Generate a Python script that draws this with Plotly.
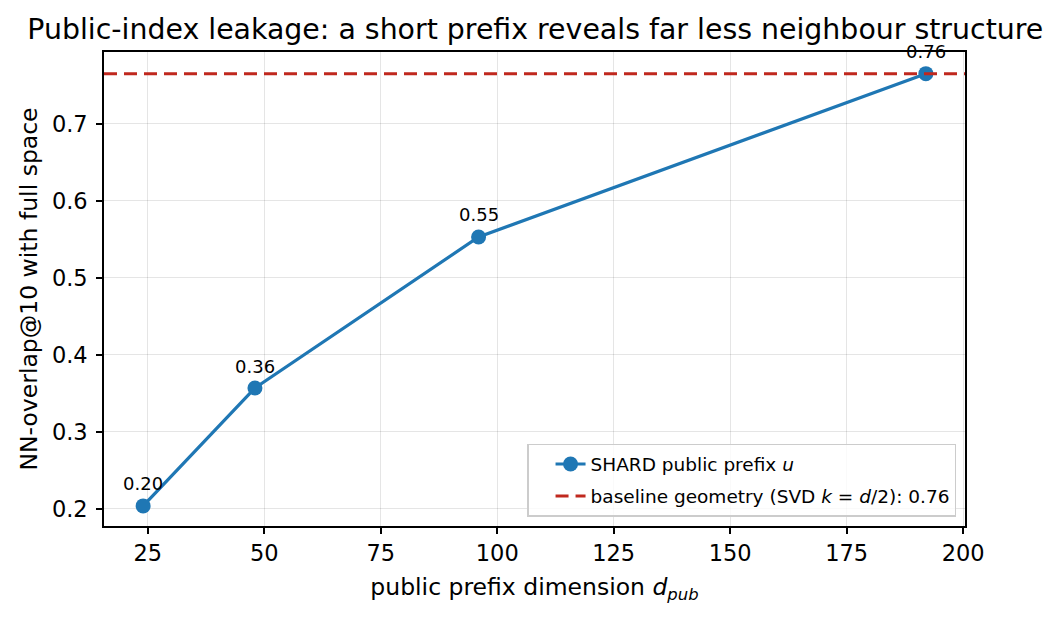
import plotly.graph_objects as go

d_pub = [24, 48, 96, 192]
overlap = [0.204, 0.357, 0.553, 0.765]
labels = ["0.20", "0.36", "0.55", "0.76"]
baseline = 0.765
x_ticks = [25, 50, 75, 100, 125, 150, 175, 200]
y_ticks = [0.2, 0.3, 0.4, 0.5, 0.6, 0.7]

blue = "#1f77b4"
red = "#c0281e"
font = "DejaVu Sans"

fig = go.Figure()
fig.add_trace(go.Scatter(
    x=d_pub, y=overlap, mode="lines+markers",
    line=dict(color=blue, width=3.2),
    marker=dict(size=15, color=blue),
    name="SHARD public prefix <i>u</i>", legendgroup="a",
))
fig.add_trace(go.Scatter(
    x=[15.6, 200.4], y=[baseline, baseline], mode="lines",
    line=dict(color=red, width=3, dash="13px,7px"),
    name="baseline geometry (SVD <i>k</i> = <i>d</i>/2): 0.76", legendgroup="b",
))
for x, y, t in zip(d_pub, overlap, labels):
    fig.add_annotation(x=x, y=y, text=t, showarrow=False, yshift=22,
                       font=dict(size=18, color="black", family=font))

axis_common = dict(
    showline=True, linecolor="black", linewidth=1.6, mirror=True,
    ticks="outside", ticklen=6, tickwidth=1.5, tickcolor="black",
    showgrid=True, gridcolor="rgba(0,0,0,0.1)", gridwidth=1.2,
    zeroline=False, tickfont=dict(size=22.5, color="black", family=font),
)
fig.update_xaxes(range=[15.6, 200.4], tickvals=x_ticks,
                 title=dict(text="public prefix dimension <i>d</i><sub><i>pub</i></sub>",
                            font=dict(size=23.5, color="black", family=font), standoff=14),
                 **axis_common)
fig.update_yaxes(range=[0.1779, 0.7931], tickvals=y_ticks,
                 tickformat=".1f", ticklabelstandoff=4,
                 title=dict(text="NN-overlap@10 with full space",
                            font=dict(size=23.5, color="black", family=font), standoff=8),
                 **axis_common)

fig.update_layout(
    width=1060, height=626,
    margin=dict(l=104, r=95, t=52, b=100),
    paper_bgcolor="white", plot_bgcolor="white",
    title=dict(text="Public-index leakage: a short prefix reveals far less neighbour structure",
               font=dict(size=28.4, color="black", family=font),
               x=0.505, xanchor="center", y=0.954, yanchor="middle"),
    showlegend=True,
    legend=dict(x=0.9896, y=0.019, xanchor="right", yanchor="bottom",
                bgcolor="rgba(255,255,255,0.8)", bordercolor="#cccccc", borderwidth=1.5,
                font=dict(size=18.5, color="black", family=font), tracegroupgap=5,
                indentation=22),
    font=dict(family=font),
)

fig.write_html("out.html")
